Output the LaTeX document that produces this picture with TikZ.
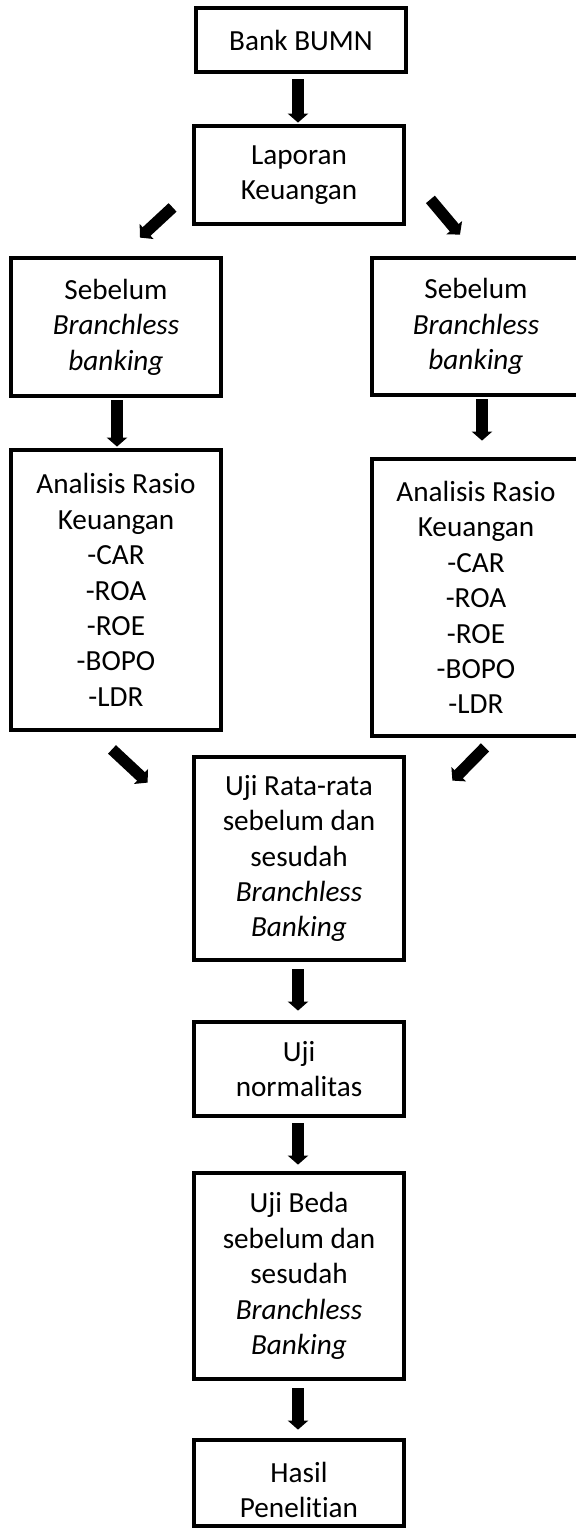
\documentclass[tikz,border=0pt]{standalone}
\usepackage{fontspec}
\setmainfont{Carlito}[Ligatures=NoCommon]
\usetikzlibrary{arrows.meta,calc}
\tikzset{
  box/.style={draw=black, line width=2.4pt, rectangle, align=center, inner sep=0pt,
    font=\fontsize{14.6pt}{17.7pt}\selectfont},
  txt/.style={align=center, inner sep=0pt, font=\fontsize{14.6pt}{17.7pt}\selectfont},
  arr/.style={line width=5.8pt, -{Triangle[width=10pt,length=4.5pt]}}
}
\begin{document}
\begin{tikzpicture}[x=0.5pt,y=-0.5pt]
\useasboundingbox (0,0) rectangle (576,1528);
% boxes
\node[box, minimum width=105pt, minimum height=32pt] (bank) at (301,40) {Bank BUMN};
\node[box, minimum width=105pt, minimum height=49pt] (lap) at (299,175) {Laporan\\Keuangan};
\node[box, minimum width=105pt, minimum height=69pt] (sebL) at (116,327) {Sebelum\\\textit{Branchless}\\\textit{banking}};
\node[box, minimum width=104pt, minimum height=68.5pt] (sebR) at (476,326.5) {Sebelum\\\textit{Branchless}\\\textit{banking}};
\node[box, minimum width=105pt, minimum height=140pt] (anaL) at (116,590) {Analisis Rasio\\Keuangan\\-CAR\\-ROA\\-ROE\\-BOPO\\-LDR};
\node[box, minimum width=104pt, minimum height=138.5pt] (anaR) at (476,597.5) {Analisis Rasio\\Keuangan\\-CAR\\-ROA\\-ROE\\-BOPO\\-LDR};
\node[box, minimum width=105pt, minimum height=101.5pt] (rata) at (299,858.5) {Uji Rata-rata\\sebelum dan\\sesudah\\\textit{Branchless}\\\textit{Banking}};
\node[box, minimum width=105pt, minimum height=47pt] (norm) at (299,1069) {Uji\\normalitas};
\node[box, minimum width=105pt, minimum height=103pt] (beda) at (299,1276) {Uji Beda\\sebelum dan\\sesudah\\\textit{Branchless}\\\textit{Banking}};
\node[box, minimum width=105pt, minimum height=43pt] (hasil) at (299,1483) {};
\node[txt] (hasiltxt) at ($(hasil.center)+(0,7)$) {Hasil\\Penelitian};
% arrow start points
\coordinate (a1) at ($(bank.south)+(-3,5)$);
\coordinate (a4) at ($(sebL.south)+(1,2)$);
\coordinate (a5) at ($(sebR.south)+(6,2)$);
\coordinate (a8) at ($(rata.south)+(-1,7)$);
\coordinate (a9) at ($(norm.south)+(-1,5)$);
\coordinate (a10) at ($(beda.south)+(-1,7)$);
% arrows
\draw[arr] (a1) -- ($(a1 |- lap.north)+(0,-1)$);
\draw[arr] ($(lap.south west)+(-19,-19)$) -- ($(sebL.north)+(24,-18)$);
\draw[arr] ($(lap.south east)+(24,-27)$) -- ($(sebR.north)+(-16,-21)$);
\draw[arr] (a4) -- ($(a4 |- anaL.north)+(0,-1)$);
\draw[arr] (a5) -- ($(a5 |- anaR.north)+(0,-16)$);
\draw[arr] ($(anaL.south)+(-4,17)$) -- ($(rata.north west)+(-44,28)$);
\draw[arr] ($(anaR.south)+(9,9)$) -- ($(rata.north east)+(46,26)$);
\draw[arr] (a8) -- ($(a8 |- norm.north)+(0,-9)$);
\draw[arr] (a9) -- ($(a9 |- beda.north)+(0,-6)$);
\draw[arr] (a10) -- ($(a10 |- hasil.north)+(0,-8)$);
\end{tikzpicture}
\end{document}
